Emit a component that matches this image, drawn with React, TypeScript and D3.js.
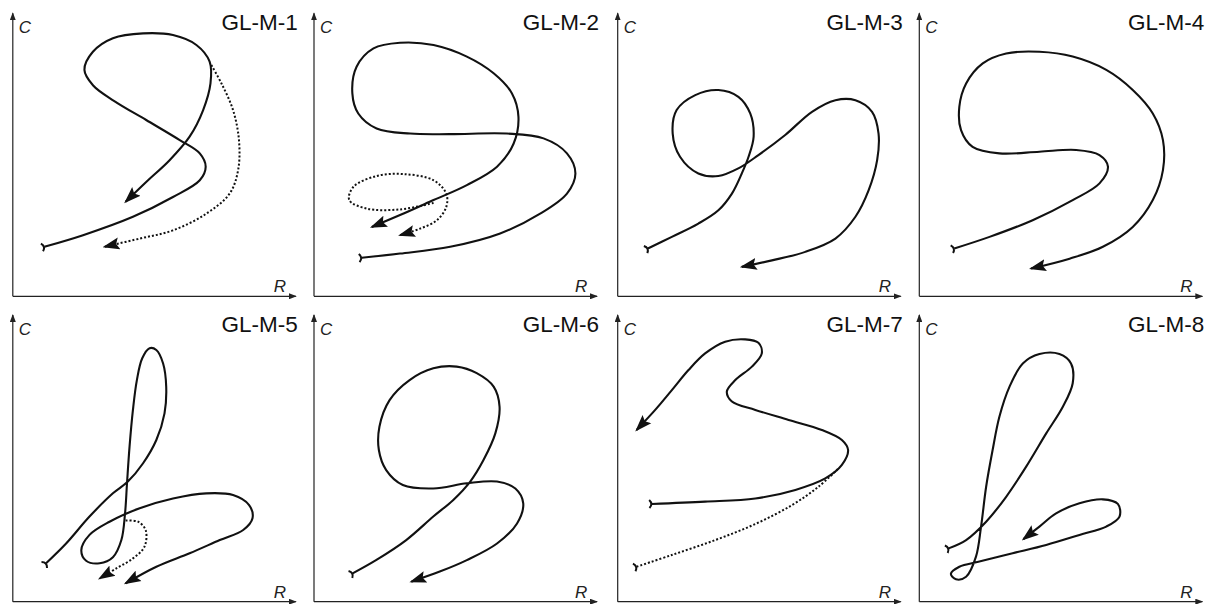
import React from "react";
import * as d3 from "d3";

type Pt = [number, number]; // [R, C] in percent of the axis length

const panelTitles = ["GL-M-1", "GL-M-2", "GL-M-3", "GL-M-4", "GL-M-5", "GL-M-6", "GL-M-7", "GL-M-8"];
const xAxisLabel = "R";
const yAxisLabel = "C";

// GL-M-1
const glm1Solid: Pt[] = [
  [11.2, 17.5], [24.9, 21.6], [42.6, 28.1], [56.8, 35.1], [66.3, 41.0], [68.4, 45.8], [66.3, 50.5],
  [59.2, 55.2], [47.3, 62.3], [36.0, 69.0], [28.5, 74.5], [25.4, 80.0], [28.4, 86.4], [35.5, 91.2],
  [46.2, 92.9], [56.8, 92.3], [65.1, 88.8], [69.8, 82.9], [70.1, 75.2], [67.5, 65.8], [62.7, 56.4],
  [55.6, 48.1], [47.3, 40.4], [40.0, 33.4],
];
const glm1Dotted: Pt[] = [
  [70.4, 81.7], [74.0, 75.2], [78.1, 65.8], [80.2, 55.2], [79.9, 44.6], [76.9, 36.3], [68.6, 29.2],
  [56.8, 23.3], [45.0, 20.4], [32.5, 17.5],
];

// GL-M-2
const glm2Solid: Pt[] = [
  [16.9, 13.6], [30.5, 15.1], [48.3, 17.5], [66.0, 22.2], [80.2, 29.2], [89.7, 36.3], [92.7, 43.4],
  [89.7, 50.5], [81.4, 55.8], [68.4, 57.5], [48.3, 57.3], [34.1, 57.5], [22.2, 59.3], [15.7, 64.6],
  [13.6, 71.7], [15.1, 81.1], [21.1, 87.6], [30.5, 89.6], [42.4, 88.8], [54.2, 84.7], [63.7, 78.8],
  [70.2, 71.7], [72.5, 63.4], [70.8, 54.0], [64.9, 45.8], [54.2, 39.3], [42.4, 34.0], [30.5, 28.7],
  [20.5, 24.5],
];
const glm2Dotted: Pt[] = [
  [42.4, 33.0], [30.5, 30.7], [18.7, 31.0], [12.5, 34.0], [14.0, 38.7], [22.2, 42.5], [31.7, 43.2],
  [42.4, 41.0], [46.9, 36.3], [46.9, 31.6], [43.6, 26.9], [37.6, 23.9], [30.5, 21.6],
];

// GL-M-3
const glm3Solid: Pt[] = [
  [10.7, 16.9], [19.2, 21.0], [28.6, 25.7], [35.7, 30.4], [40.5, 36.3], [44.0, 43.4], [46.4, 49.3],
  [48.2, 56.4], [47.0, 64.6], [42.8, 70.5], [35.7, 72.9], [27.5, 71.1], [20.9, 65.8], [19.5, 57.5],
  [22.1, 49.3], [28.6, 43.4], [35.7, 42.5], [42.8, 45.2], [49.9, 49.9], [59.4, 57.0], [68.9, 65.2],
  [77.2, 69.3], [84.3, 69.3], [90.2, 65.2], [92.5, 57.5], [92.0, 48.1], [89.0, 37.5], [84.3, 28.1],
  [77.2, 20.4], [66.5, 15.7], [54.7, 12.7], [44.0, 10.4],
];

// GL-M-4
const glm4Solid: Pt[] = [
  [12.4, 16.9], [24.9, 21.0], [40.2, 26.9], [54.4, 34.0], [63.9, 39.9], [66.9, 45.8], [63.9, 49.9],
  [55.6, 51.7], [42.6, 51.1], [28.4, 50.5], [18.9, 52.8], [14.8, 58.7], [14.2, 67.0], [16.6, 75.2],
  [22.5, 82.3], [30.8, 85.8], [42.6, 86.4], [54.4, 84.7], [66.3, 80.0], [75.7, 72.9], [82.8, 64.6],
  [86.4, 55.2], [86.4, 44.6], [82.8, 34.0], [75.7, 24.5], [65.1, 17.5], [53.3, 13.3], [39.6, 9.8],
];

// GL-M-5
const glm5Solid: Pt[] = [
  [11.8, 13.4], [18.9, 20.3], [27.2, 29.7], [35.5, 37.8], [40.8, 41.9], [46.2, 48.3], [50.9, 56.4],
  [53.8, 65.7], [54.4, 75.0], [53.3, 83.1], [50.9, 87.8], [48.5, 88.4], [45.9, 84.9], [44.0, 77.3],
  [42.6, 66.9], [41.4, 54.1], [40.5, 41.3], [39.8, 30.8], [38.5, 21.5], [35.5, 15.5], [30.8, 13.4],
  [26.0, 14.3], [24.3, 18.0], [27.2, 23.3], [34.3, 27.9], [45.0, 32.6], [56.8, 36.0], [68.6, 37.8],
  [78.1, 37.2], [83.8, 33.7], [85.0, 29.1], [81.7, 25.0], [73.4, 21.5], [62.7, 16.9], [50.9, 12.2],
  [40.0, 6.4],
];
const glm5Dotted: Pt[] = [
  [40.0, 28.3], [44.4, 27.9], [47.1, 25.0], [46.7, 19.2], [42.6, 15.1], [36.7, 11.6], [30.8, 8.1],
];

// GL-M-6
const glm6Solid: Pt[] = [
  [13.7, 9.9], [22.0, 14.5], [32.7, 21.5], [42.3, 29.7], [49.4, 35.5], [55.4, 41.9], [60.1, 49.4],
  [64.3, 58.7], [65.8, 68.0], [63.7, 75.0], [57.7, 79.7], [50.6, 82.0], [42.3, 81.4], [33.9, 77.3],
  [26.8, 70.3], [23.2, 61.0], [23.0, 52.9], [25.6, 45.9], [31.5, 40.7], [42.3, 39.5], [54.2, 41.3],
  [64.9, 41.9], [71.4, 39.5], [74.2, 34.3], [72.0, 27.3], [64.9, 20.3], [54.2, 14.5], [44.6, 10.5],
  [34.5, 7.0],
];

// GL-M-7
const glm7Solid: Pt[] = [
  [12.1, 34.1], [31.0, 34.9], [48.8, 36.0], [63.0, 39.0], [73.6, 43.0], [79.5, 47.7], [81.7, 52.9],
  [79.5, 56.4], [72.4, 59.9], [60.6, 63.4], [48.8, 66.9], [40.5, 69.8], [38.7, 73.3], [41.7, 77.3],
  [47.6, 82.0], [51.1, 86.6], [49.9, 90.3], [45.2, 91.5], [38.1, 90.7], [31.0, 86.6], [25.1, 80.8],
  [19.2, 73.8], [13.3, 66.9], [6.7, 59.9],
];
const glm7Dotted: Pt[] = [
  [6.7, 12.2], [19.2, 16.3], [34.6, 21.5], [48.8, 27.1], [61.8, 33.7], [71.2, 40.1], [78.3, 46.5],
];

// GL-M-8
const glm8Solid: Pt[] = [
  [10.4, 18.6], [16.6, 21.5], [23.7, 27.9], [30.8, 36.6], [37.9, 47.1], [45.0, 58.7], [50.9, 68.0],
  [54.4, 76.2], [53.8, 83.1], [49.7, 86.4], [42.6, 86.4], [36.7, 83.1], [32.0, 75.0], [28.4, 64.5],
  [26.0, 52.9], [23.7, 40.1], [21.9, 26.2], [20.1, 15.7], [16.6, 8.7], [13.0, 7.8], [11.2, 9.7],
  [14.2, 12.2], [21.3, 14.0], [33.1, 16.9], [45.0, 19.8], [56.8, 23.3], [66.3, 26.2], [71.0, 29.7],
  [70.4, 34.1], [65.1, 35.7], [56.8, 34.3], [48.5, 30.8], [42.6, 26.2], [36.9, 21.8],
];

interface Trace {
  points: Pt[];
  dotted: boolean;
  tail: boolean;
  head: boolean;
}

const panelTraces: Trace[][] = [
  [
    { points: glm1Solid, dotted: false, tail: true, head: true },
    { points: glm1Dotted, dotted: true, tail: false, head: true },
  ],
  [
    { points: glm2Solid, dotted: false, tail: true, head: true },
    { points: glm2Dotted, dotted: true, tail: false, head: true },
  ],
  [{ points: glm3Solid, dotted: false, tail: true, head: true }],
  [{ points: glm4Solid, dotted: false, tail: true, head: true }],
  [
    { points: glm5Solid, dotted: false, tail: true, head: true },
    { points: glm5Dotted, dotted: true, tail: false, head: true },
  ],
  [{ points: glm6Solid, dotted: false, tail: true, head: true }],
  [
    { points: glm7Solid, dotted: false, tail: true, head: true },
    { points: glm7Dotted, dotted: true, tail: true, head: false },
  ],
  [{ points: glm8Solid, dotted: false, tail: true, head: true }],
];

const W = 1211;
const H = 604;
const colLeft = [12.8, 314, 617.7, 919.3];
const rowOrigin = [296.3, 601.7];
const rowTop = [13.3, 315];
const plotWidth = 282;
const font = "'Liberation Sans', Arial, sans-serif";

function Panel({ index }: { index: number }) {
  const col = index % 4;
  const row = Math.floor(index / 4);
  const x0 = colLeft[col];
  const y0 = rowOrigin[row];
  const top = rowTop[row];
  const x = d3.scaleLinear().domain([0, 100]).range([x0, x0 + plotWidth]);
  const y = d3.scaleLinear().domain([0, 100]).range([y0, top]);
  const line = d3
    .line<Pt>()
    .x((d) => x(d[0]))
    .y((d) => y(d[1]))
    .curve(d3.curveCatmullRom.alpha(0.5));

  return (
    <g>
      <line x1={x0} y1={y0} x2={x0} y2={top} stroke="#222" strokeWidth={1.2} markerEnd="url(#axisHead)" />
      <line x1={x0} y1={y0} x2={x0 + plotWidth + 1} y2={y0} stroke="#222" strokeWidth={1.2} markerEnd="url(#axisHead)" />
      <text x={x0 + 6} y={top + 20} fontFamily={font} fontStyle="italic" fontSize={17} fill="#222">
        {yAxisLabel}
      </text>
      <text x={x0 + 261} y={y0 - 4} fontFamily={font} fontStyle="italic" fontSize={17} fill="#222">
        {xAxisLabel}
      </text>
      <text x={x0 + 285} y={top + 17} textAnchor="end" fontFamily={font} fontSize={22.5} fill="#111">
        {panelTitles[index]}
      </text>
      {panelTraces[index].map((t, i) => (
        <path
          key={i}
          d={line(t.points) ?? ""}
          fill="none"
          stroke="#111"
          strokeWidth={t.dotted ? 2 : 2.1}
          strokeDasharray={t.dotted ? "2 2" : undefined}
          markerStart={t.tail ? "url(#tailMark)" : undefined}
          markerEnd={t.head ? "url(#curveHead)" : undefined}
        />
      ))}
    </g>
  );
}

export default function App() {
  return (
    <svg
      width={W}
      height={H}
      viewBox={`0 0 ${W} ${H}`}
      style={{ position: "absolute", left: 0, top: 0, background: "#fff" }}
    >
      <defs>
        <marker
          id="curveHead"
          viewBox="0 0 17 13"
          refX={15}
          refY={6.5}
          markerWidth={17}
          markerHeight={13}
          markerUnits="userSpaceOnUse"
          orient="auto"
        >
          <path d="M0,0.5 L17,6.5 L0,12.5 L3,6.5 Z" fill="#111" />
        </marker>
        <marker
          id="tailMark"
          viewBox="-5 -6 10 12"
          refX={0}
          refY={0}
          markerWidth={10}
          markerHeight={12}
          markerUnits="userSpaceOnUse"
          orient="auto"
        >
          <path d="M-2.5,-4 Q1.5,0 -2.5,4" fill="none" stroke="#111" strokeWidth={2} />
        </marker>
        <marker
          id="axisHead"
          viewBox="0 0 8 6"
          refX={7}
          refY={3}
          markerWidth={8}
          markerHeight={6}
          markerUnits="userSpaceOnUse"
          orient="auto"
        >
          <path d="M0,0 L8,3 L0,6 Z" fill="#222" />
        </marker>
      </defs>
      <rect width={W} height={H} fill="#fff" />
      {panelTitles.map((_, i) => (
        <Panel key={i} index={i} />
      ))}
    </svg>
  );
}
